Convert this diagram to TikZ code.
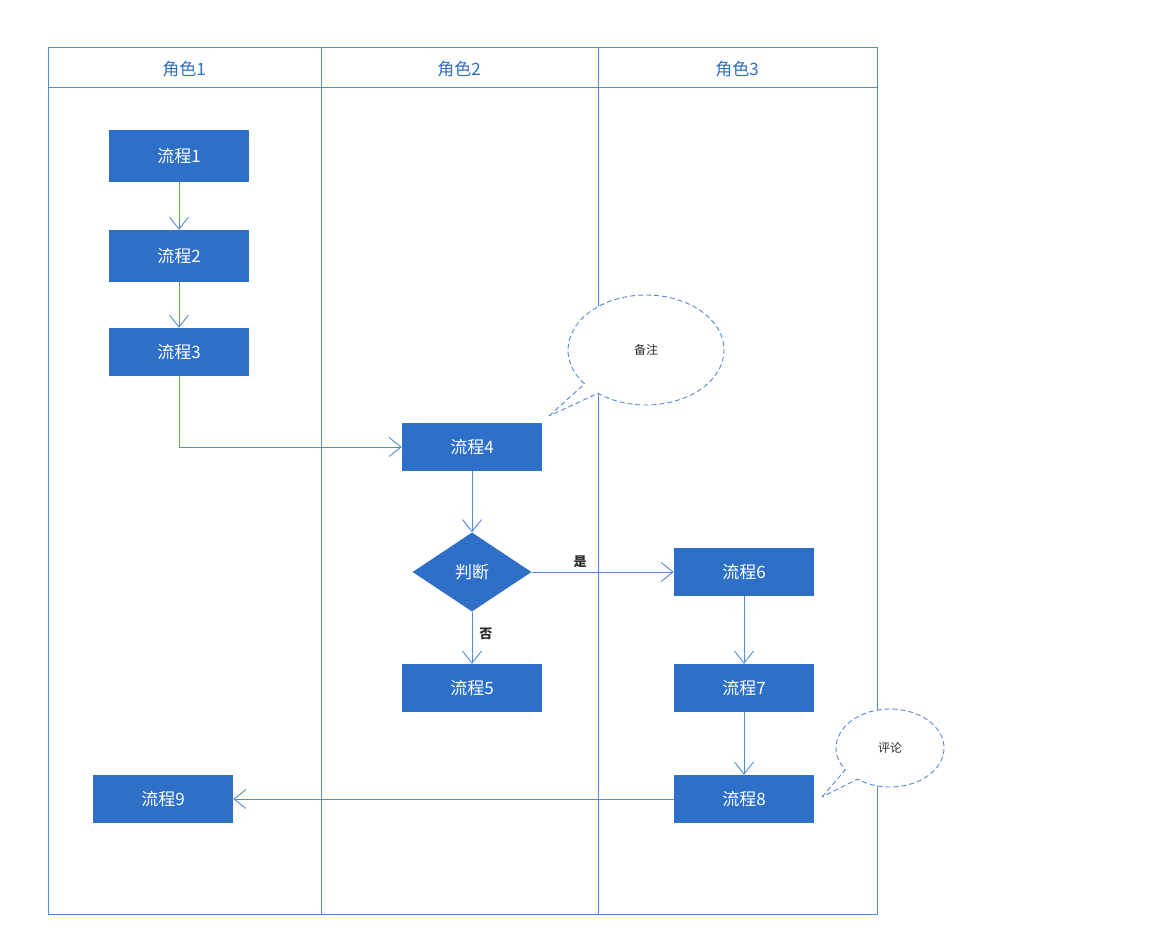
\documentclass[tikz,border=0pt]{standalone}
\usepackage{fontspec}
\setmainfont{Noto Sans CJK SC}
\usetikzlibrary{arrows.meta,shapes.geometric,calc}
\definecolor{boxblue}{RGB}{46,112,200}
\definecolor{lineblue}{RGB}{86,138,214}
\definecolor{headblue}{RGB}{46,111,200}
\definecolor{labgray}{RGB}{45,45,45}
\begin{document}
\begin{tikzpicture}[x=1pt,y=-1pt,
  proc/.style={fill=boxblue,text=white,minimum width=140pt,minimum height=48pt,inner sep=0pt,font=\fontsize{17}{17}\selectfont},
  dec/.style={diamond,fill=boxblue,text=white,minimum width=119pt,minimum height=79pt,inner sep=0pt,font=\fontsize{17}{17}\selectfont},
  lane/.style={draw=lineblue,line width=1pt},
  head/.style={text=headblue,font=\fontsize{17}{17}\selectfont},
  conn/.style={draw=lineblue,line width=0.9pt,-{Straight Barb[length=12pt,width=19pt,line width=0.9pt]}},
  lab/.style={text=labgray,font=\fontsize{13}{13}\selectfont\bfseries,inner sep=1pt},
  callout/.style={draw=lineblue,fill=white,line width=0.9pt,dashed,dash pattern=on 5pt off 3pt},
  note/.style={text=labgray,font=\fontsize{12}{12}\selectfont}]
\useasboundingbox[fill=white] (0,0) rectangle (1169,947);
% swimlane frame
\draw[lane] (48,48) rectangle (877,914);
\draw[lane] (48,88) -- (877,88);
\draw[lane] (321,48) -- (321,914);
\draw[lane] (598,48) -- (598,914);
\node[head] (h1) at (184,69) {角色1};
\node[head] (h2) at (459,69) {角色2};
\node[head] (h3) at (737,69) {角色3};
% process nodes
\node[proc,minimum height=52pt] (p1) at (179,156) {流程1};
\node[proc,minimum height=52pt] (p2) at (179,256) {流程2};
\node[proc] (p3) at (179,352) {流程3};
\node[proc] (p4) at (472,447) {流程4};
\node[dec] (d) at (472,572) {判断};
\node[proc] (p5) at (472,688) {流程5};
\node[proc] (p6) at (744,572) {流程6};
\node[proc] (p7) at (744,688) {流程7};
\node[proc] (p8) at (744,799) {流程8};
\node[proc] (p9) at (163,799) {流程9};
% connectors
\draw[conn] (p1) -- (p2);
\draw[conn] (p2) -- (p3);
\draw[conn] (p3.south) |- (p4.west);
\draw[conn] (p4) -- (d);
\draw[conn] (d.east) -- node[lab,pos=0.34,above=3pt] {是} (p6.west);
\draw[conn] (d.south) -- node[lab,pos=0.42,anchor=west,xshift=6pt] {否} (p5.north);
\draw[conn] (p6) -- (p7);
\draw[conn] (p7) -- (p8);
\draw[conn] (p8) -- (p9);
% callouts
\draw[callout] (549,416) -- ($(646,350)+(142:78 and 55)$) arc[start angle=142,end angle=488,x radius=78,y radius=55] -- cycle;
\node[note] (n1) at (646,350) {备注};
\draw[callout] (822,797) -- ($(890,748)+(146:54 and 39)$) arc[start angle=146,end angle=487,x radius=54,y radius=39] -- cycle;
\node[note] (n2) at (890,748) {评论};
\end{tikzpicture}
\end{document}
